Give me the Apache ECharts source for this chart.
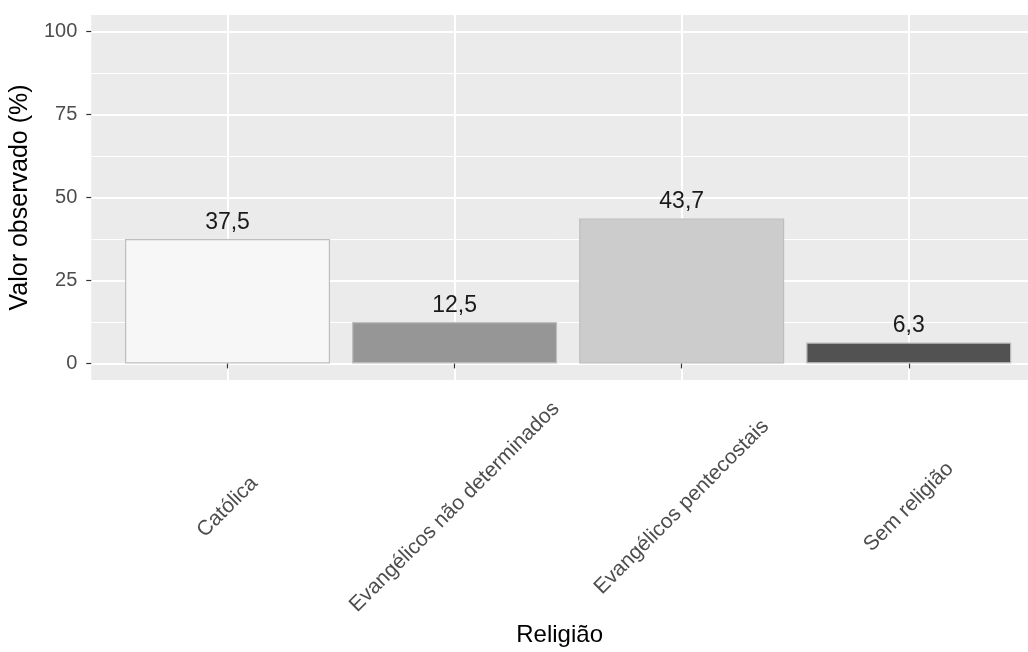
<!DOCTYPE html>
<html>
<head>
<meta charset="utf-8">
<script src="https://cdn.jsdelivr.net/npm/echarts@6/dist/echarts.min.js"></script>
<style>
  html, body { margin: 0; padding: 0; background: #ffffff; }
  #chart { width: 1028px; height: 652px; }
</style>
</head>
<body>
<div id="chart"></div>
<script>
const categories = ['Católica', 'Evangélicos não determinados', 'Evangélicos pentecostais', 'Sem religião'];
const values = [37.5, 12.5, 43.7, 6.3];
const yTicks = [0, 25, 50, 75, 100];
const yMinorTicks = [12.5, 37.5, 62.5, 87.5];
const xPositions = [1, 2, 3, 4];

const fills = ['#F7F7F7', '#969696', '#CCCCCC', '#525252'];
const FONT = "'Liberation Sans', Arial, sans-serif";

const chart = echarts.init(document.getElementById('chart'), null, { renderer: 'canvas' });

const barData = values.map((v, i) => ({
  value: [xPositions[i], v],
  itemStyle: { color: fills[i], borderColor: '#BEBEBE', borderWidth: 1.2 }
}));

chart.setOption({
  animation: false,
  backgroundColor: '#ffffff',
  textStyle: { fontFamily: FONT },
  grid: {
    left: 90, right: 0, top: 15, bottom: 272,
    show: true, backgroundColor: '#EBEBEB', borderWidth: 0,
    containLabel: false
  },
  xAxis: {
    type: 'value',
    min: 0.4, max: 4.525,
    name: 'Religião',
    nameLocation: 'middle',
    nameGap: 240,
    nameTextStyle: { fontSize: 24, color: '#000000', fontFamily: FONT },
    axisLine: { show: false },
    axisTick: { show: true, customValues: xPositions, length: 5, lineStyle: { color: '#333333', width: 1.2 } },
    axisLabel: {
      customValues: xPositions,
      formatter: (v) => categories[Math.round(v) - 1] || '',
      rotate: 45,
      align: 'center',
      verticalAlign: 'middle',
      margin: 127,
      fontSize: 21,
      color: '#4D4D4D',
      fontFamily: FONT
    },
    splitLine: { show: true, lineStyle: { color: '#FFFFFF', width: 2 } }
  },
  yAxis: [
    {
      type: 'value',
      min: -5, max: 105,
      name: 'Valor observado (%)',
      nameLocation: 'middle',
      nameGap: 55,
      nameRotate: 90,
      nameTextStyle: { fontSize: 25, color: '#000000', fontFamily: FONT },
      axisLine: { show: false },
      axisTick: { show: true, customValues: yTicks, length: 5, lineStyle: { color: '#333333', width: 1.2 } },
      axisLabel: { customValues: yTicks, margin: 14, fontSize: 20, color: '#4D4D4D', fontFamily: FONT },
      splitLine: { show: true, lineStyle: { color: '#FFFFFF', width: 2 } }
    },
    {
      type: 'value',
      min: -5, max: 105,
      position: 'left',
      axisLine: { show: false },
      axisTick: { show: false, customValues: yMinorTicks },
      axisLabel: { show: false, customValues: yMinorTicks },
      splitLine: { show: true, lineStyle: { color: '#FFFFFF', width: 1 } }
    }
  ],
  series: [
    {
      type: 'bar',
      xAxisIndex: 0,
      yAxisIndex: 0,
      barWidth: 205,
      data: barData,
      z: 3,
      label: {
        show: true,
        position: 'top',
        distance: 5,
        fontSize: 23,
        color: '#1A1A1A',
        fontFamily: FONT,
        formatter: (p) => p.value[1].toFixed(1).replace('.', ',')
      }
    }
  ]
});
</script>
</body>
</html>
